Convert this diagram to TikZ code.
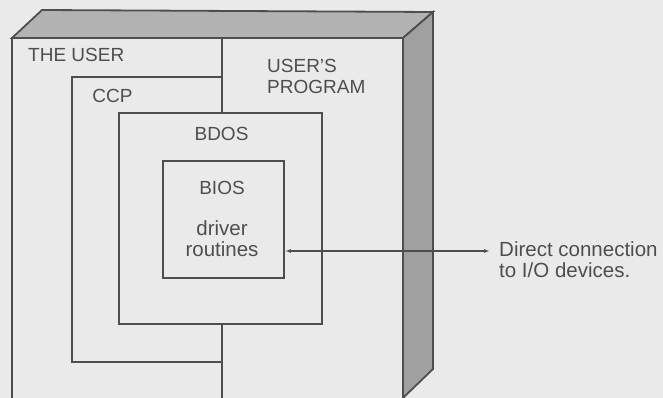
\documentclass[tikz,border=0pt]{standalone}
\usepackage{fontspec}
\setmainfont{Liberation Sans}
\usepackage{xcolor}
\usepackage{tikz}
\usetikzlibrary{positioning, arrows.meta, calc}

\definecolor{paper}{HTML}{EAEAEA}
\definecolor{ink}{HTML}{4E4E4E}
\definecolor{topface}{HTML}{B2B2B2}
\definecolor{sideface}{HTML}{A0A0A0}

\begin{document}
\begin{tikzpicture}[x=1pt, y=-1pt,
    wall/.style={draw=ink, line width=1.8pt},
    layer/.style={rectangle, draw=ink, line width=1.8pt, inner sep=0pt},
    lbl/.style={text=ink, font=\fontsize{19}{21.5}\selectfont, inner sep=0pt, align=center},
    small/.style={lbl, font=\fontsize{20.5}{21}\selectfont}]
    \useasboundingbox[fill=paper] (0,0) rectangle (663,398);

    % the box seen from the front
    \fill[topface, draw=ink, line width=1.8pt] (12,38) -- (42,10) -- (433,12) -- (403,38) -- cycle;
    \fill[sideface, draw=ink, line width=1.8pt] (403,38) -- (433,12) -- (433,369) -- (403,398) -- cycle;
    \draw[wall] (12,398) -- (12,38) -- (403,38) -- (403,398);

    % layers
    \node[layer, minimum width=203pt, minimum height=211pt] (bdos) at (220.5,218.5) {};
    \node[layer, minimum width=121pt, minimum height=117pt] (bios) at (223.5,219.5) {};
    \draw[wall] (222,38) -- (222,77) -- (72,77) -- (72,362) -- (222,362);
    \draw[wall] (222,77) -- (bdos.north -| 222,0);
    \draw[wall] (bdos.south -| 222,0) -- (222,398);

    \node[lbl, anchor=west] (user) at (28,55) {THE USER};
    \node[lbl, align=left, anchor=west] (prog) at (267,76.5) {USER'S\\PROGRAM};
    \node[lbl] (ccp) at (112.5,96) {CCP};
    \node[lbl] (bdosl) at (221.5,134) {BDOS};
    \node[lbl] (biosl) at (222,188) {BIOS};
    \node[small] (drv) at (222,238.5) {driver\\routines};

    % connection to the outside
    \coordinate (tip) at (490,251);
    \node[small, align=left, anchor=west] (io) at (499,259.5) {Direct connection\\to I/O devices.};
    \draw[ink, line width=1.5pt, {Latex[length=6pt,width=4pt]}-{Latex[length=6pt,width=4pt]}] (bios.east |- tip) -- (tip);
\end{tikzpicture}
\end{document}
